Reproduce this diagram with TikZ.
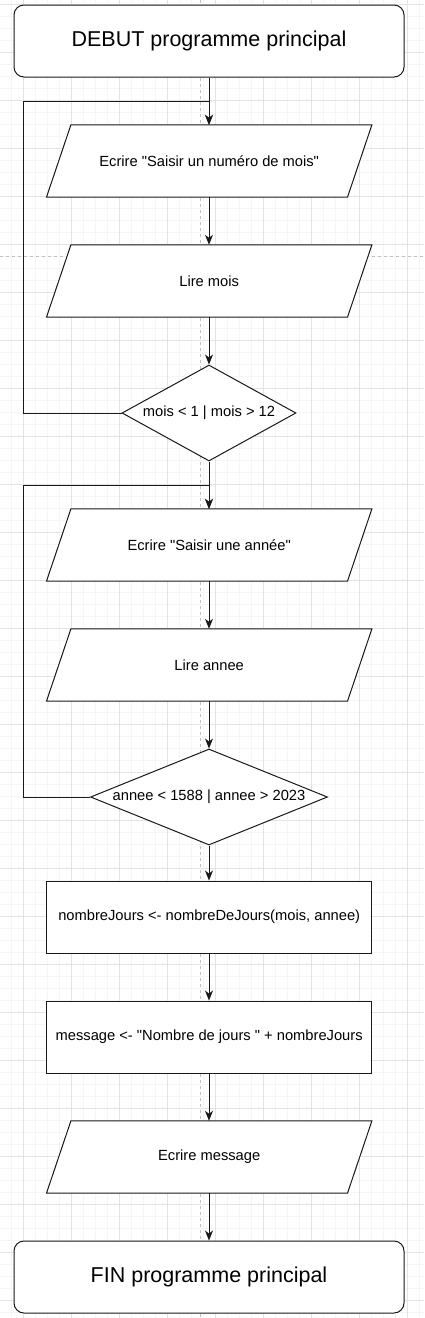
\documentclass[tikz,border=0pt]{standalone}
\usepackage{fontspec}
\setmainfont{Liberation Sans}[Ligatures=TeXOff]
\usetikzlibrary{arrows.meta,shapes.geometric}
\pgfdeclarelayer{grid}
\pgfdeclarelayer{under}
\pgfsetlayers{grid,under,main}
\tikzset{
  minorgrid/.style={draw=black!4, line width=0.8pt},
  majorgrid/.style={draw=black!11, line width=0.8pt},
  pageline/.style={draw=black!25, line width=0.7pt, dash pattern=on 3pt off 3pt},
  shapeline/.style={draw=black!90, line width=1pt},
  term/.style={shapeline, fill=white, rounded corners=10pt, minimum width=390pt, minimum height=72pt, inner sep=0pt, font=\fontsize{21.5}{25}\selectfont},
  io/.style={minimum width=325pt, minimum height=72pt, inner sep=0pt, font=\fontsize{14.7}{17}\selectfont},
  proc/.style={shapeline, fill=white, minimum width=325pt, minimum height=72pt, inner sep=0pt, font=\fontsize{14.7}{17}\selectfont},
  dec/.style={shapeline, fill=white, diamond, inner sep=0pt, minimum height=96pt, font=\fontsize{14.7}{17}\selectfont},
  arr/.style={draw=black!90, line width=1pt, -{Stealth[length=10pt,width=8pt,inset=3pt]}},
  loopline/.style={arr, rounded corners=0pt}
}
\begin{document}
\begin{tikzpicture}[x=1pt,y=-1pt]
\useasboundingbox (0,0) rectangle (424,1318);
\begin{pgfonlayer}{grid}
  \fill[white] (0,0) rectangle (424,1318);
  \foreach \x in {11,23,...,419} \draw[minorgrid] (\x,0) -- (\x,1318);
  \foreach \y in {4,16,...,1316} \draw[minorgrid] (0,\y) -- (424,\y);
  \foreach \x in {23,71,...,407} \draw[majorgrid] (\x,0) -- (\x,1318);
  \foreach \y in {4,52,...,1300} \draw[majorgrid] (0,\y) -- (424,\y);
  \draw[pageline] (200,0) -- (200,1318);
  \draw[pageline] (0,256) -- (424,256);
\end{pgfonlayer}

\node[term] (debut) at (209,41) {DEBUT programme principal};
\node[io] (p1) at (209.2,161) {Ecrire "Saisir un numéro de mois"};
\node[io] (p2) at (209.2,281) {Lire mois};
\node[dec, minimum width=174pt, aspect=1.81] (d1) at (209,413) {mois < 1 | mois > 12};
\node[io] (p3) at (209.2,545) {Ecrire "Saisir une année"};
\node[io] (p4) at (209.2,665) {Lire annee};
\node[dec, minimum width=237pt, aspect=2.47] (d2) at (209,797) {annee < 1588 | annee > 2023};
\node[proc] (r1) at (209.2,917) {nombreJours <- nombreDeJours(mois, annee)};
\node[proc] (r2) at (209.2,1037) {message <- "Nombre de jours\ " + nombreJours};
\node[io] (p5) at (209.2,1157) {Ecrire message};
\node[term] (fin) at (209,1277) {FIN programme principal};

\begin{pgfonlayer}{under}
  \foreach \n in {p1,p2,p3,p4,p5}
    \filldraw[shapeline, fill=white, line join=miter]
      ([xshift=24.4pt]\n.north west) -- (\n.north east)
      -- ([xshift=-24.4pt]\n.south east) -- (\n.south west) -- cycle;
\end{pgfonlayer}

\draw[arr] (debut.south -| 209,0) -- (p1.north -| 209,0);
\draw[arr] (p1.south -| 209,0) -- (p2.north -| 209,0);
\draw[arr] (p2.south -| 209,0) -- (d1.north);
\draw[arr] (d1.south) -- (p3.north -| 209,0);
\draw[arr] (p3.south -| 209,0) -- (p4.north -| 209,0);
\draw[arr] (p4.south -| 209,0) -- (d2.north);
\draw[arr] (d2.south) -- (r1.north -| 209,0);
\draw[arr] (r1.south -| 209,0) -- (r2.north -| 209,0);
\draw[arr] (r2.south -| 209,0) -- (p5.north -| 209,0);
\draw[arr] (p5.south -| 209,0) -- (fin.north -| 209,0);

\coordinate (l1) at (23,101);
\coordinate (l2) at (23,485);
\draw[loopline] (d1.west) -| (l1) -- (l1 -| d1.north) -- (p1.north -| d1.north);
\draw[loopline] (d2.west) -| (l2) -- (l2 -| d2.north) -- (p3.north -| d2.north);
\end{tikzpicture}
\end{document}
